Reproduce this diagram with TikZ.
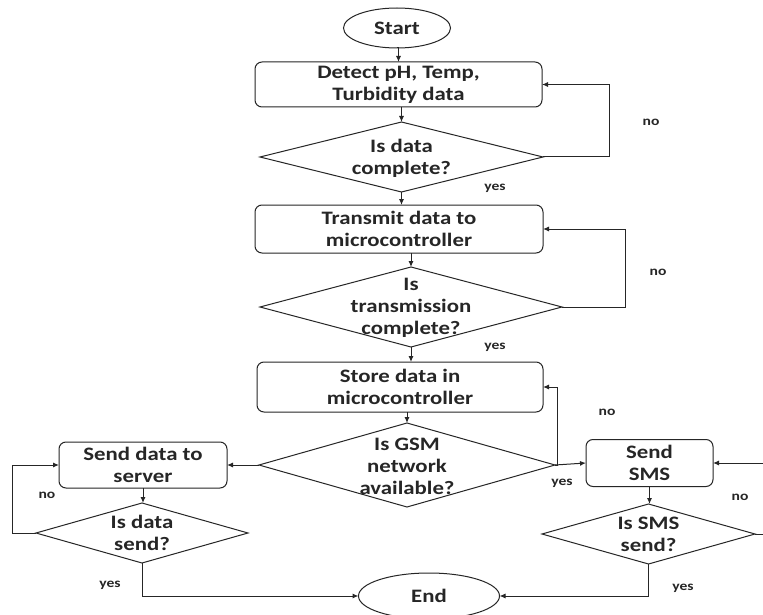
\documentclass[tikz,border=0pt]{standalone}
\usepackage{fontspec}
\setmainfont[FakeStretch=1.2]{Carlito}
\usetikzlibrary{shapes.geometric,arrows.meta}
\begin{document}
\begin{tikzpicture}[x=1pt,y=-1pt,
  every node/.style={inner sep=0pt, outer sep=0pt},
  txt/.style={align=center, font=\bfseries\fontsize{19}{22}\selectfont, text=black!85},
  lbl/.style={font=\bfseries\fontsize{13}{15}\selectfont, text=black!85},
  proc/.style={txt, draw, rounded corners=7pt},
  term/.style={txt, draw, ellipse},
  dec/.style={draw, diamond},
  line/.style={draw=black!85, line width=1pt},
  arr/.style={line, -{Latex[length=6pt,width=5pt]}}
]
\useasboundingbox[fill=white] (0,0) rectangle (763,615);
\begin{scope}[line width=1pt, draw=black!85]
\node[term, minimum width=107pt, minimum height=40pt] (start) at (397,28) {Start};
\node[proc, minimum width=287pt, minimum height=45pt] (detect) at (398.5,84.5) {Detect pH, Temp,\\Turbidity data};
\node[dec, minimum width=283pt, minimum height=70pt] (d1) at (401.5,157) {};
\node[txt] (d1t) at (401.5,158) {Is data\\complete?};
\node[proc, minimum width=288pt, minimum height=48pt] (trans) at (399,229) {Transmit data to\\microcontroller};
\node[dec, minimum width=302pt, minimum height=80pt] (d2) at (411,307) {};
\node[txt] (d2t) at (411,308) {Is\\transmission\\complete?};
\node[proc, minimum width=286pt, minimum height=50pt] (store) at (400,387) {Store data in\\microcontroller};
\node[dec, minimum width=296pt, minimum height=84pt] (gsm) at (407,465) {};
\node[txt] (gsmt) at (407,466) {Is GSM\\network\\available?};
\node[proc, minimum width=168pt, minimum height=46pt] (send) at (143,465) {Send data to\\server};
\node[dec, minimum width=212pt, minimum height=60pt] (ds) at (142,533) {};
\node[txt] (dst) at (142,533) {Is data\\send?};
\node[proc, minimum width=127pt, minimum height=47pt] (sms) at (649.5,463) {Send\\SMS};
\node[dec, minimum width=213pt, minimum height=60pt] (dsms) at (648.5,534) {};
\node[txt] (dsmst) at (648.5,534) {Is SMS\\send?};
\node[term, minimum width=141pt, minimum height=46pt] (end) at (429,596) {End};
\end{scope}

\draw[arr] (start.south) -- (start.south -| detect.north) -- (detect.north);
\draw[arr] (d1.north |- detect.south) -- (d1.north);
\draw[arr] (d1.south) -- (d1.south |- trans.north);
\draw[arr] (d2.north |- trans.south) -- (d2.north);
\draw[arr] (d2.south) -- (d2.south |- store.north);
\draw[arr] (gsm.north |- store.south) -- (gsm.north);

\coordinate (c1) at (609,157);
\draw[arr] (d1.east) -- (c1) |- (detect.east);
\coordinate (c2) at (625,307);
\draw[arr] (d2.east) -- (c2) |- (trans.east);
\draw[arr] (gsm.east) -- ++(2,0) |- (store.east);
\draw[arr] (gsm.east) -- (sms.west);
\draw[arr] (gsm.west) -- (send.east);
\draw[arr] (send.south) -- (send.south |- ds.north);
\coordinate (c3) at (12,533);
\draw[arr] (ds.west) -- (c3) |- (send.west);
\draw[arr] (ds.south) |- (end.west);
\draw[arr] (sms.south) -- (sms.south |- dsms.north);
\coordinate (c4) at (775,534);
\draw[arr] (dsms.east) -- (c4) |- (sms.east);
\draw[arr] (dsms.south) |- (end.east);

\node[lbl] (l1) at (651,122) {no};
\node[lbl] (l2) at (495,188) {yes};
\node[lbl] (l3) at (658,272) {no};
\node[lbl] (l4) at (495,347) {yes};
\node[lbl] (l5) at (607,412) {no};
\node[lbl] (l6) at (562,483) {yes};
\node[lbl] (l7) at (740,497) {no};
\node[lbl] (l8) at (683,588) {yes};
\node[lbl] (l9) at (47,495) {no};
\node[lbl] (l10) at (110,585) {yes};
\end{tikzpicture}
\end{document}
